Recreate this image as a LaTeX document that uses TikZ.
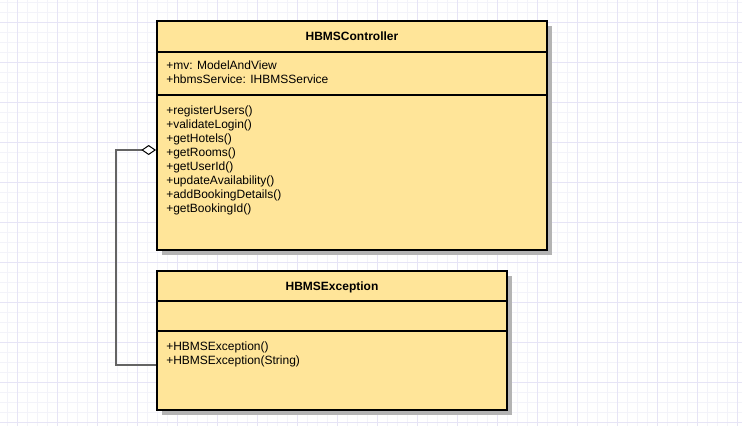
\documentclass[tikz,border=0pt]{standalone}
\usepackage{fontspec}
\setmainfont{Liberation Sans}
\usetikzlibrary{arrows.meta}
\definecolor{classfill}{RGB}{255,229,153}
\definecolor{shadowgray}{RGB}{180,180,180}
\definecolor{linegray}{RGB}{100,100,100}
\definecolor{gridminor}{RGB}{243,243,250}
\definecolor{gridmajor}{RGB}{230,228,246}
\tikzset{
  classbox/.style={draw=black, line width=1.5pt, fill=classfill, inner sep=0pt},
  boxshadow/.style={fill=shadowgray},
  divider/.style={draw=black, line width=1.5pt},
  classtitle/.style={font=\fontsize{9}{10.5}\selectfont\bfseries, inner sep=0.75pt, anchor=base},
  member/.style={inner sep=0.75pt, anchor=base west},
  aggr/.style={draw=linegray, line width=0.9pt, -{Diamond[color=black, fill=white, length=11pt, width=7.5pt, line width=0.75pt]}},
  minorgrid/.style={draw=gridminor, line width=0.75pt},
  majorgrid/.style={draw=gridmajor, line width=0.75pt}
}
\begin{document}
\begin{tikzpicture}[x=0.75pt,y=0.75pt,yscale=-1,xscale=1,font=\fontsize{9}{10.5}\selectfont]
\useasboundingbox (0,0) rectangle (742,426);
\fill[white] (0,0) rectangle (742,426);

%Background grid
\foreach \x in {7,17,...,737} \draw[minorgrid] (\x,0) -- (\x,426);
\foreach \y in {2,12,...,422} \draw[minorgrid] (0,\y) -- (742,\y);
\foreach \x in {17,57,...,737} \draw[majorgrid] (\x,0) -- (\x,426);
\foreach \y in {22,62,...,422} \draw[majorgrid] (0,\y) -- (742,\y);

%Shape: Class box HBMSController
\fill[boxshadow] (162,26) rectangle (552,255);
\node[classbox, minimum width=292.5pt, minimum height=171.75pt] (ctrl) at (352,135.5) {};
\draw[divider] (ctrl.west |- 0,52) -- (ctrl.east |- 0,52);
\draw[divider] (ctrl.west |- 0,95) -- (ctrl.east |- 0,95);

%Shape: Class box HBMSException
\fill[boxshadow] (162,276) rectangle (512,415);
\node[classbox, minimum width=262.5pt, minimum height=104.25pt] (exc) at (332,340.5) {};
\draw[divider] (exc.west |- 0,301) -- (exc.east |- 0,301);
\draw[divider] (exc.west |- 0,331) -- (exc.east |- 0,331);

% Text Node
\node[classtitle] (ctrltitle) at (ctrl.north |- 0,40) {HBMSController};
\node[member] (ctrla1) at (165,69) {+mv: ModelAndView};
\node[member] (ctrla2) at (165,83) {+hbmsService: IHBMSService};
\foreach \m [count=\i from 0] in {registerUsers(),validateLogin(),getHotels(),getRooms(),getUserId(),updateAvailability(),addBookingDetails(),getBookingId()}
  \node[member] (ctrlm\i) at (165,114+14*\i) {+\m};

% Text Node
\node[classtitle] (exctitle) at (exc.north |- 0,290) {HBMSException};
\node[member] (excm1) at (165,350) {+HBMSException()};
\node[member] (excm2) at (165,364) {+HBMSException(String)};

%Straight Lines: aggregation
\coordinate (excport) at (exc.west |- 0,365);
\coordinate (ctrlport) at (ctrl.west |- 0,150);
\draw[aggr] (excport) -- ++(-40,0) |- (ctrlport);

\end{tikzpicture}
\end{document}
